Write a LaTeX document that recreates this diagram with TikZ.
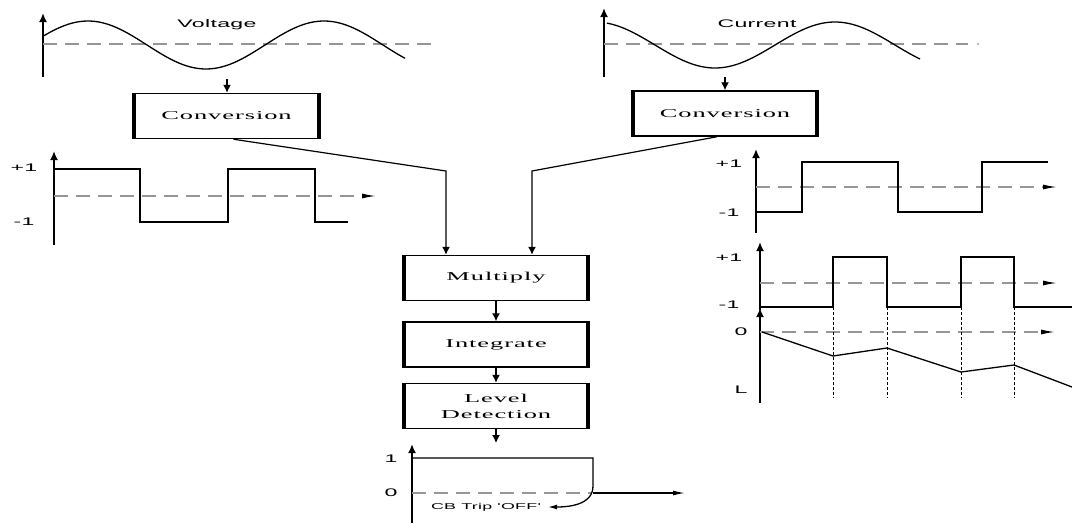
\documentclass[tikz,border=0pt]{standalone}
\usepackage{fontspec}
\usetikzlibrary{arrows.meta}
\newfontfamily\boxfont{Liberation Serif}[FakeStretch=2.2,LetterSpace=8]
\newfontfamily\lblfont{Liberation Sans}[FakeStretch=2.1,LetterSpace=3]
\definecolor{dashgray}{RGB}{150,150,150}
\tikzset{
	block/.style={draw=black, line width=1.5pt, minimum width=183pt, minimum height=45pt, inner sep=0pt, align=center, font=\boxfont\fontsize{12}{16}\selectfont},
	axis/.style={draw=black, line width=2.2pt, -{Latex[length=9pt,width=8pt]}},
	wave/.style={draw=black, line width=1.3pt},
	zero/.style={draw=dashgray, line width=1.3pt, dash pattern=on 14pt off 8pt},
	tip/.style={-{Latex[length=14pt,width=5pt,color=black]}},
	flow/.style={draw=black, line width=1.2pt, -{Latex[length=8pt,width=8pt]}},
	lbl/.style={font=\lblfont\fontsize{11}{12}\selectfont},
	small/.style={font=\lblfont\fontsize{8.5}{9}\selectfont},
	marker/.style={draw=black, line width=0.9pt, dash pattern=on 3pt off 2pt},
}
\begin{document}
\begin{tikzpicture}[x=1pt, y=-1pt]
	\useasboundingbox (0,0) rectangle (1072,523);
	% voltage input
	\draw[axis] (43,77) -- (43,13);
	\draw[zero] (43,44) -- (437,44);
	\draw[wave] plot[domain=43:405, samples=100] (\x,{45-24*cos((\x-88)*1.5254)});
	\node[lbl] (vlabel) at (217,25) {Voltage};
	\node[block] (convV) at (226.5,116) {Conversion};
	\coordinate (vtrough) at (227,79);
	\draw[flow] (vtrough) -- (vtrough |- convV.north);
	% voltage square wave
	\draw[axis] (54,245) -- (54,151);
	\draw[zero, tip] (54,196) -- (376,196);
	\draw[wave] (54,169) -- (140,169) -- (140,222) -- (228,222) -- (228,169) -- (315,169) -- (315,222) -- (348,222);
	\node[lbl] (vplus) at (24,168) {+1};
	\node[lbl] (vminus) at (24,222) {-1};
	% current input
	\draw[axis] (604,77) -- (604,8);
	\draw[zero] (604,44) -- (968,44);
	\fill[dashgray] (978,44) circle (1pt);
	\draw[wave] plot[domain=607:920, samples=100] (\x,{45+23*cos((\x-715)*1.5)});
	\node[lbl] (ilabel) at (757,24) {Current};
	\node[block] (convI) at (725,113.5) {Conversion};
	\coordinate (itrough) at (725,77);
	\draw[flow] (itrough) -- (itrough |- convI.north);
	% current square wave
	\draw[axis] (756,233) -- (756,149);
	\draw[zero, tip] (756,187) -- (1057,187);
	\draw[wave] (756,212) -- (802,212) -- (802,162) -- (898,162) -- (898,212) -- (982,212) -- (982,162) -- (1048,162);
	\node[lbl] (iplus) at (729,164) {+1};
	\node[lbl] (iminus) at (729,213) {-1};
	% product
	\draw[axis] (760,310) -- (760,242);
	\draw[zero, tip] (760,283) -- (1057,283);
	\draw[wave] (760,307) -- (833,307) -- (833,257) -- (887,257) -- (887,307) -- (961,307) -- (961,257) -- (1014,257) -- (1014,307) -- (1072,307);
	\node[lbl] (pplus) at (729,258) {+1};
	\node[lbl] (pminus) at (729,305) {-1};
	% integral
	\draw[axis] (760,403) -- (760,308);
	\draw[zero, tip] (760,332) -- (1055,332);
	\draw[wave] (762,332) -- (833,356) -- (887,348) -- (961,372) -- (1014,365) -- (1072,387);
	\foreach \t in {833,887,961,1014}
		\draw[marker] (\t,307) -- (\t,398);
	\node[lbl] (izero) at (741,332) {0};
	\node[lbl] (ilevel) at (741,390) {L};
	% processing chain
	\node[block] (mult) at (496,278) {Multiply};
	\node[block] (integ) at (496,344.5) {Integrate};
	\node[block] (level) at (496,406) {Level\\Detection};
	\foreach \b in {convV,convI,mult,integ,level} {
		\draw[line width=4pt] (\b.north west) -- (\b.south west);
		\draw[line width=4pt] (\b.north east) -- (\b.south east);
	}
	\coordinate (vbend) at (446,171);
	\coordinate (ibend) at (532,171);
	\draw[flow] ([xshift=7pt]convV.south) -- (vbend) -- (vbend |- mult.north);
	\draw[flow] ([xshift=-8pt]convI.south) -- (ibend) -- (ibend |- mult.north);
	\draw[flow] (mult.south) -- (integ.north);
	\draw[flow] (integ.south) -- (level.north);
	\coordinate (outtop) at (496,443);
	\draw[flow] (level.south) -- (outtop);
	% trip output
	\draw[axis] (412,523) -- (412,444);
	\draw[zero] (412,493) -- (592,493);
	\draw[wave, -{Latex[length=9pt,width=5pt]}] (412,458) -- (593,458) -- (593,486) to[out=-90, in=0] (548,507);
	\draw[wave, -{Latex[length=12pt,width=5pt]}] (593,493) -- (685,493);
	\node[lbl] (tone) at (391,459) {1};
	\node[lbl] (tzero) at (391,493) {0};
	\node[small] (trip) at (486,507) {CB Trip 'OFF'};
\end{tikzpicture}
\end{document}
